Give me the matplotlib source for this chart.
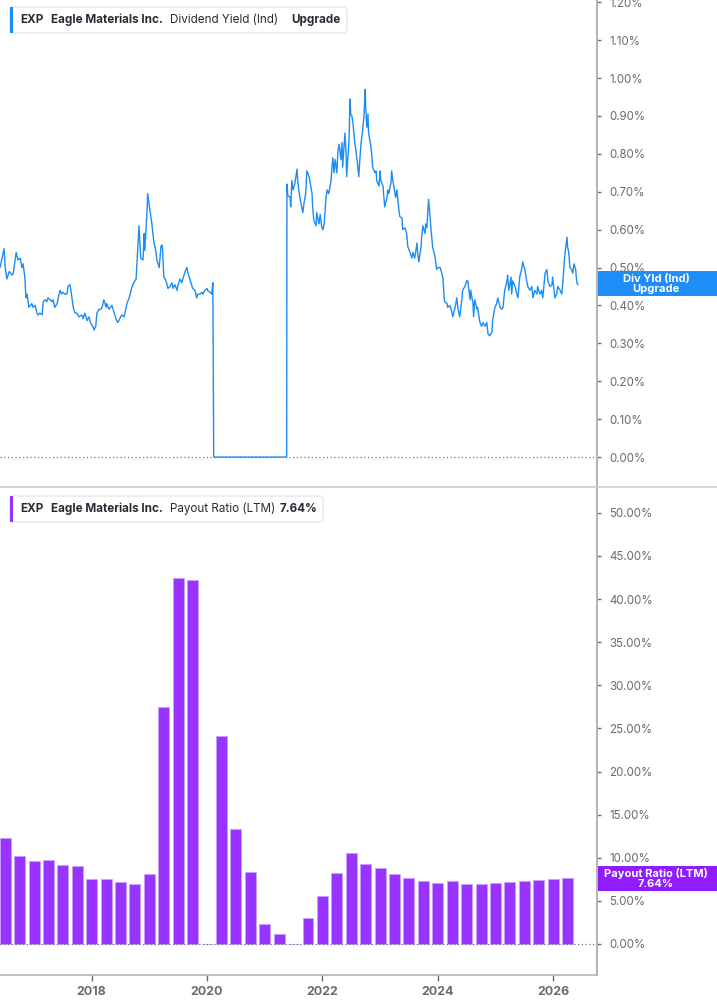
import matplotlib
matplotlib.use('Agg')
import matplotlib.pyplot as plt
from matplotlib.patches import FancyBboxPatch, Rectangle

plt.rcParams['font.family'] = ['Inter', 'DejaVu Sans']

# dividend yield (%), x in decimal years
yld_years = [
    2016.41, 2016.44, 2016.48, 2016.50, 2016.53, 2016.57, 2016.62, 2016.64, 2016.69, 2016.72,
    2016.76, 2016.79, 2016.81, 2016.84, 2016.86, 2016.88, 2016.91, 2016.96, 2016.98, 2017.02,
    2017.05, 2017.07, 2017.10, 2017.14, 2017.16, 2017.19, 2017.22, 2017.24, 2017.28, 2017.31,
    2017.33, 2017.36, 2017.40, 2017.42, 2017.45, 2017.48, 2017.50, 2017.54, 2017.57, 2017.59,
    2017.62, 2017.64, 2017.68, 2017.71, 2017.74, 2017.78, 2017.83, 2017.85, 2017.88, 2017.92,
    2017.95, 2017.99, 2018.02, 2018.04, 2018.07, 2018.09, 2018.13, 2018.16, 2018.18, 2018.21,
    2018.25, 2018.26, 2018.30, 2018.35, 2018.39, 2018.42, 2018.45, 2018.47, 2018.52, 2018.56,
    2018.59, 2018.61, 2018.65, 2018.70, 2018.73, 2018.77, 2018.78, 2018.82, 2018.85, 2018.89,
    2018.91, 2018.92, 2018.96, 2018.97, 2019.01, 2019.04, 2019.06, 2019.08, 2019.11, 2019.13,
    2019.15, 2019.17, 2019.20, 2019.22, 2019.23, 2019.25, 2019.27, 2019.30, 2019.32, 2019.36,
    2019.39, 2019.41, 2019.44, 2019.48, 2019.49, 2019.53, 2019.56, 2019.58, 2019.62, 2019.65,
    2019.67, 2019.70, 2019.74, 2019.75, 2019.79, 2019.82, 2019.84, 2019.88, 2019.91, 2019.93,
    2019.96, 2020.00, 2020.01, 2020.05, 2020.08, 2020.10, 2020.115, 2021.38, 2021.385,
    2021.40, 2021.44, 2021.45, 2021.47, 2021.49, 2021.52, 2021.56, 2021.57, 2021.59, 2021.61,
    2021.64, 2021.66, 2021.68, 2021.71, 2021.73, 2021.77, 2021.78, 2021.82, 2021.83, 2021.85,
    2021.89, 2021.90, 2021.94, 2021.96, 2021.99, 2022.01, 2022.03, 2022.06, 2022.08, 2022.11,
    2022.15, 2022.16, 2022.18, 2022.20, 2022.22, 2022.25, 2022.27, 2022.29, 2022.32, 2022.34,
    2022.35, 2022.39, 2022.41, 2022.42, 2022.46, 2022.48, 2022.49, 2022.51, 2022.53, 2022.56,
    2022.58, 2022.60, 2022.63, 2022.65, 2022.67, 2022.70, 2022.72, 2022.74, 2022.75, 2022.77,
    2022.79, 2022.80, 2022.84, 2022.86, 2022.87, 2022.91, 2022.93, 2022.94, 2022.98, 2023.00,
    2023.01, 2023.05, 2023.06, 2023.08, 2023.12, 2023.13, 2023.15, 2023.19, 2023.20, 2023.22,
    2023.26, 2023.27, 2023.29, 2023.32, 2023.34, 2023.38, 2023.39, 2023.43, 2023.46, 2023.48,
    2023.52, 2023.55, 2023.57, 2023.60, 2023.64, 2023.65, 2023.67, 2023.71, 2023.72, 2023.74,
    2023.78, 2023.79, 2023.81, 2023.84, 2023.86, 2023.88, 2023.90, 2023.91, 2023.95, 2023.98,
    2024.00, 2024.04, 2024.07, 2024.09, 2024.11, 2024.12, 2024.16, 2024.17, 2024.21, 2024.24,
    2024.26, 2024.30, 2024.33, 2024.35, 2024.38, 2024.42, 2024.43, 2024.47, 2024.50, 2024.52,
    2024.56, 2024.57, 2024.61, 2024.62, 2024.64, 2024.68, 2024.69, 2024.73, 2024.76, 2024.78,
    2024.82, 2024.85, 2024.87, 2024.90, 2024.94, 2024.95, 2024.99, 2025.02, 2025.04, 2025.08,
    2025.11, 2025.13, 2025.16, 2025.20, 2025.21, 2025.23, 2025.27, 2025.28, 2025.30, 2025.34,
    2025.37, 2025.39, 2025.42, 2025.46, 2025.47, 2025.51, 2025.54, 2025.56, 2025.60, 2025.63,
    2025.65, 2025.68, 2025.72, 2025.73, 2025.77, 2025.80, 2025.82, 2025.86, 2025.89, 2025.91,
    2025.94, 2025.98, 2025.99, 2026.03, 2026.06, 2026.08, 2026.12, 2026.15, 2026.17, 2026.20,
    2026.24, 2026.25, 2026.27, 2026.29, 2026.32, 2026.34, 2026.36, 2026.39, 2026.41, 2026.43,
]
yld_values = [
    0.50, 0.52, 0.55, 0.50, 0.47, 0.49, 0.48, 0.485, 0.54, 0.52,
    0.525, 0.50, 0.51, 0.475, 0.42, 0.43, 0.395, 0.405, 0.395, 0.40,
    0.38, 0.375, 0.38, 0.375, 0.41, 0.415, 0.41, 0.42, 0.415, 0.41,
    0.415, 0.395, 0.405, 0.42, 0.44, 0.43, 0.435, 0.43, 0.43, 0.45,
    0.455, 0.44, 0.395, 0.38, 0.38, 0.37, 0.375, 0.365, 0.38, 0.36,
    0.37, 0.35, 0.345, 0.335, 0.345, 0.38, 0.39, 0.39, 0.395, 0.415,
    0.395, 0.405, 0.39, 0.40, 0.38, 0.365, 0.355, 0.36, 0.375, 0.37,
    0.39, 0.405, 0.42, 0.45, 0.46, 0.47, 0.50, 0.61, 0.525, 0.52,
    0.59, 0.545, 0.65, 0.695, 0.65, 0.62, 0.59, 0.565, 0.545, 0.52,
    0.51, 0.50, 0.555, 0.56, 0.545, 0.475, 0.47, 0.46, 0.445, 0.45,
    0.46, 0.445, 0.455, 0.44, 0.45, 0.47, 0.46, 0.47, 0.49, 0.50,
    0.485, 0.47, 0.45, 0.445, 0.44, 0.42, 0.43, 0.43, 0.435, 0.43,
    0.44, 0.445, 0.44, 0.435, 0.43, 0.46, 0.0, 0.0, 0.72,
    0.69, 0.685, 0.66, 0.73, 0.705, 0.72, 0.76, 0.73, 0.705, 0.685,
    0.66, 0.645, 0.67, 0.695, 0.755, 0.74, 0.73, 0.695, 0.66, 0.625,
    0.61, 0.645, 0.615, 0.64, 0.605, 0.60, 0.615, 0.68, 0.705, 0.695,
    0.73, 0.755, 0.79, 0.75, 0.785, 0.75, 0.81, 0.825, 0.785, 0.83,
    0.765, 0.855, 0.80, 0.74, 0.835, 0.945, 0.905, 0.90, 0.88, 0.83,
    0.81, 0.785, 0.74, 0.79, 0.83, 0.865, 0.90, 0.97, 0.925, 0.87,
    0.905, 0.855, 0.82, 0.79, 0.765, 0.75, 0.755, 0.73, 0.715, 0.755,
    0.73, 0.715, 0.695, 0.66, 0.685, 0.705, 0.695, 0.725, 0.755, 0.73,
    0.695, 0.685, 0.705, 0.66, 0.635, 0.63, 0.60, 0.605, 0.59, 0.555,
    0.54, 0.525, 0.54, 0.525, 0.565, 0.54, 0.515, 0.555, 0.58, 0.61,
    0.59, 0.615, 0.605, 0.68, 0.645, 0.605, 0.57, 0.555, 0.53, 0.495,
    0.50, 0.50, 0.485, 0.47, 0.42, 0.41, 0.405, 0.395, 0.40, 0.385,
    0.37, 0.395, 0.42, 0.39, 0.37, 0.42, 0.44, 0.45, 0.465, 0.465,
    0.415, 0.44, 0.405, 0.37, 0.415, 0.39, 0.395, 0.355, 0.345, 0.355,
    0.345, 0.355, 0.325, 0.32, 0.33, 0.36, 0.395, 0.405, 0.42, 0.395,
    0.39, 0.395, 0.44, 0.465, 0.48, 0.44, 0.475, 0.43, 0.465, 0.45,
    0.43, 0.42, 0.475, 0.50, 0.515, 0.495, 0.465, 0.45, 0.44, 0.45,
    0.42, 0.44, 0.43, 0.45, 0.43, 0.44, 0.42, 0.485, 0.495, 0.465,
    0.45, 0.455, 0.475, 0.42, 0.43, 0.45, 0.44, 0.43, 0.465, 0.53,
    0.58, 0.555, 0.54, 0.50, 0.495, 0.485, 0.51, 0.495, 0.46, 0.455,
]

# payout ratio (LTM, %), quarterly Jun 2016 .. Mar 2026
payout_quarters = [2016.5 + 0.25 * i for i in range(40)]
payout_values = [
    12.3, 10.2, 9.6, 9.7, 9.2, 9.1, 7.5, 7.5, 7.2, 6.9,
    8.1, 27.5, 42.5, 42.2, 0.0, 24.1, 13.3, 8.3, 2.3, 1.2,
    0.0, 3.0, 5.6, 8.2, 10.5, 9.3, 8.8, 8.1, 7.7, 7.3,
    7.1, 7.3, 7.0, 7.0, 7.1, 7.2, 7.3, 7.4, 7.5, 7.64,
]

yld_ticks = [i / 10 for i in range(13)]
payout_ticks = [5 * i for i in range(11)]
year_ticks = [2018, 2020, 2022, 2024, 2026]

BLUE = '#1c8cf5'
PURPLE = '#9933ff'
GRAY = '#6b6b6b'
SPINE = '#b5b5b5'

W, H = 717, 1005
fig = plt.figure(figsize=(W / 100, H / 100), dpi=100)


def fx(x):
    return x / W


def fy(y):
    return 1 - y / H


xmin, xmax = 2016.41, 2026.76

# ---- top panel: dividend yield
ax1 = fig.add_axes([0, fy(487), fx(597), 487 / H])
ax1.plot(yld_years, yld_values, color=BLUE, lw=1.0)
ax1.axhline(0, color='#777777', lw=0.9, ls=(0, (1, 2)))
ax1.set_xlim(xmin, xmax)
ax1.set_ylim(-0.079, 1.206)
ax1.set_yticks(yld_ticks)
ax1.set_yticklabels([f'{t:.2f}%' for t in yld_ticks])
ax1.set_xticks([])

# ---- bottom panel: payout ratio
ax2 = fig.add_axes([0, fy(975), fx(597), (975 - 487) / H])
ax2.bar(payout_quarters, payout_values, width=0.19, color=PURPLE,
        edgecolor='#c9a0ff', linewidth=0.6)
ax2.axhline(0, color='#777777', lw=0.9, ls=(0, (1, 2)))
ax2.set_xlim(xmin, xmax)
ax2.set_ylim(-3.6, 53.0)
ax2.set_yticks(payout_ticks)
ax2.set_yticklabels([f'{t:.2f}%' for t in payout_ticks])
ax2.set_xticks(year_ticks)
ax2.set_xticklabels([str(y) for y in year_ticks], fontweight='bold')

for ax in (ax1, ax2):
    for s in ('left', 'top'):
        ax.spines[s].set_visible(False)
    ax.spines['right'].set_color(SPINE)
    ax.spines['right'].set_linewidth(1.5)
    ax.spines['bottom'].set_color(SPINE)
    ax.spines['bottom'].set_linewidth(1.2)
    ax.yaxis.tick_right()
    ax.tick_params(axis='y', colors=GRAY, labelsize=8.3, length=3, width=1,
                   pad=6, labelcolor=GRAY)
    ax.tick_params(axis='x', colors=GRAY, labelsize=9, length=4, width=1,
                   pad=4, labelcolor=GRAY)
ax1.spines['bottom'].set_color('#d0d0d0')

# separator line across full width
fig.add_artist(plt.Line2D([0, 1], [fy(487), fy(487)], color='#d0d0d0', lw=1.2))


def legend_box(y0, x1, color, parts):
    box = FancyBboxPatch((fx(10), fy(y0 + 26)), fx(x1 - 10), 26 / H,
                         boxstyle='round,pad=0,rounding_size=0.004',
                         transform=fig.transFigure, facecolor='white',
                         edgecolor='#e2e2e2', linewidth=0.8, zorder=5)
    fig.add_artist(box)
    fig.add_artist(Rectangle((fx(10), fy(y0 + 26)), fx(3), 26 / H,
                             transform=fig.transFigure, facecolor=color,
                             edgecolor='none', zorder=6))
    for x, txt, wt in parts:
        fig.text(fx(x), fy(y0 + 13), txt, fontsize=8.4, fontweight=wt,
                 color='#2a2a35', va='center', ha='left', zorder=7)


legend_box(7, 347, BLUE, [(20, 'EXP', 'bold'), (51, 'Eagle Materials Inc.', 'bold'),
                          (170, 'Dividend Yield (Ind)', 'normal'), (291, 'Upgrade', 'bold')])
legend_box(496, 323, PURPLE, [(20, 'EXP', 'bold'), (51, 'Eagle Materials Inc.', 'bold'),
                              (170, 'Payout Ratio (LTM)', 'normal'), (280, '7.64%', 'bold')])


def value_tag(y0, color, text):
    fig.add_artist(Rectangle((fx(598), fy(y0 + 25)), fx(119), 25 / H,
                             transform=fig.transFigure, facecolor=color,
                             edgecolor='none', zorder=6))
    fig.text(fx(656), fy(y0 + 12.5), text, fontsize=8, fontweight='bold',
             color='white', ha='center', va='center', linespacing=1.0, zorder=7)


value_tag(271, '#1f8ef9', 'Div Yld (Ind)\nUpgrade')
value_tag(866, '#8f1dff', 'Payout Ratio (LTM)\n7.64%')

fig.savefig('out.png', dpi=100)
